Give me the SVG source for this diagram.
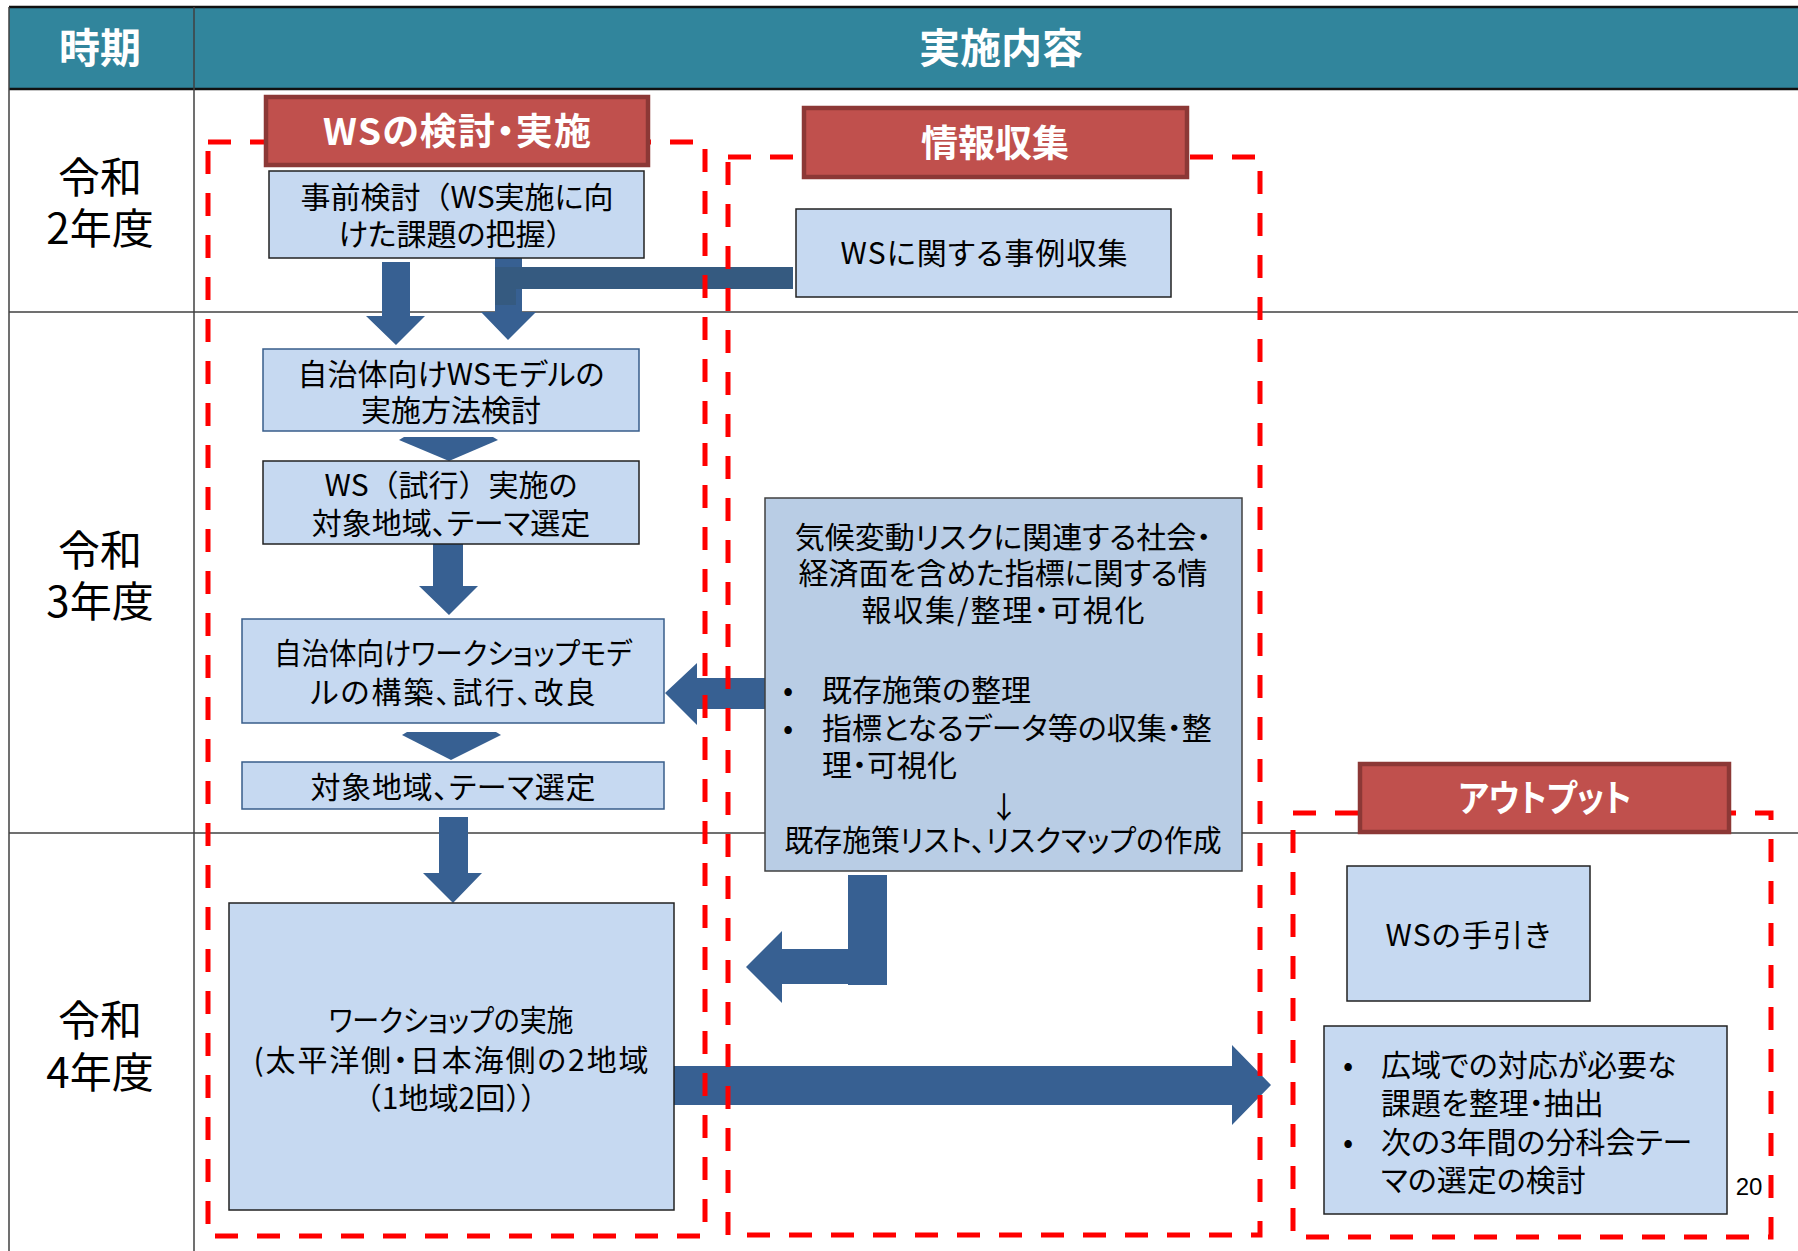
<svg xmlns="http://www.w3.org/2000/svg" width="1798" height="1251" viewBox="0 0 1798 1251">
<style>
text{font-family:"Noto Sans CJK JP","Noto Sans CJK SC",sans-serif;font-feature-settings:"palt" 1;fill:#000}
.np{font-feature-settings:normal}
.hd{font-size:41px;font-weight:bold;fill:#fff;text-anchor:middle}
.yr{font-size:42px;text-anchor:middle}
.lbl{font-size:37px;font-weight:bold;fill:#fff;text-anchor:middle}
.t{font-size:30px;text-anchor:middle}
.tl{font-size:30px;text-anchor:start}
.c{text-anchor:middle}
.s{text-anchor:start}
.box{fill:#C6D9F1;stroke:#385D8A;stroke-width:1.5}
.boxk{fill:#C6D9F1;stroke:#222;stroke-width:1.5}
.info{fill:#B9CDE5;stroke:#404040;stroke-width:1.5}
.redlbl{fill:#C0504D;stroke:#8C3836;stroke-width:4.5}
.dash{fill:none;stroke:#FF0000;stroke-width:5;stroke-dasharray:23 19}
.arr{fill:#376092}
.arr2{fill:#355A80}
.grid{stroke:#404040;stroke-width:1.5;fill:none}
</style>
<rect width="1798" height="1251" fill="#fff"/>
<g id="table">
<rect x="9" y="7" width="1789" height="82" fill="#31859C"/>
<line class="grid" x1="9" y1="7" x2="1798" y2="7" style="stroke:#111;stroke-width:2.5"/>
<line class="grid" x1="9" y1="89" x2="1798" y2="89" style="stroke:#111;stroke-width:2.5"/>
<line class="grid" x1="9" y1="7" x2="9" y2="1251"/>
<line class="grid" x1="194" y1="7" x2="194" y2="1251"/>
<line class="grid" x1="9" y1="312" x2="1798" y2="312"/>
<line class="grid" x1="9" y1="833" x2="1798" y2="833"/>
<text class="hd" x="100" y="63">時期</text>
<text class="hd" x="1001" y="63">実施内容</text>
<text class="yr"><tspan x="100" y="193">令和</tspan><tspan x="100" y="244">2年度</tspan></text>
<text class="yr"><tspan x="100" y="566">令和</tspan><tspan x="100" y="617">3年度</tspan></text>
<text class="yr"><tspan x="100" y="1036">令和</tspan><tspan x="100" y="1088">4年度</tspan></text>
</g>
<g id="connectors">
<path class="arr" d="M382,262 H410 V316 H425 L396,345 L366,316 H382 Z"/>
<path class="arr" d="M495,256 H522 V312 H536 L508,340 L481,312 H495 Z"/>
<rect class="arr2" x="497" y="267" width="296" height="22"/>
<rect class="arr2" x="495" y="267" width="21" height="38"/>
<path class="arr" d="M399,440 L404,437 H493 L498,440 L449,461 Z"/>
<path class="arr" d="M433,544 H463 V586 H478 L449,615 L419,586 H433 Z"/>
<path class="arr" d="M765,678 V709 H697 V725 L665,693 L697,663 V678 Z"/>
<path class="arr" d="M402,735 L407,732 H496 L501,735 L451,760 Z"/>
<path class="arr" d="M439,817 H468 V873 H482 L453,903 L423,873 H439 Z"/>
<path class="arr" d="M848,875 H887 V985 H848 V984 H782 V1003 L746,967 L782,931 V949 H848 Z"/>
<path class="arr" d="M674,1066 H1232 V1045 L1271,1085 L1232,1125 V1105 H674 Z"/>
</g>
<g id="frames">
<rect class="dash" x="208" y="142" width="497" height="1094"/>
<rect class="dash" x="728" y="157" width="532" height="1078"/>
<rect class="dash" x="1293" y="813" width="478" height="424"/>
</g>
<g id="label-ws">
<rect class="redlbl" x="266" y="97" width="382" height="68"/>
<text class="lbl" x="457" y="145" textLength="268" lengthAdjust="spacing">WSの検討・実施</text>
</g>
<g id="label-info">
<rect class="redlbl" x="804" y="108" width="383" height="69"/>
<text class="lbl" x="995" y="157">情報収集</text>
</g>
<g id="label-output">
<rect class="redlbl" x="1360" y="764" width="369" height="68"/>
<text class="lbl" x="1545" y="812" textLength="173" lengthAdjust="spacingAndGlyphs">アウトプット</text>
</g>
<g id="n-jizen">
<rect class="boxk" x="269" y="171" width="375" height="87"/>
<text class="t"><tspan x="457" y="208">事前検討<tspan class="np">（</tspan>WS実施に向</tspan><tspan x="457" y="245">けた課題の把握<tspan class="np">）</tspan></tspan></text>
</g>
<g id="n-jirei">
<rect class="boxk" x="796" y="209" width="375" height="88"/>
<text class="t" x="984" y="264" textLength="287" lengthAdjust="spacing">WSに関する事例収集</text>
</g>
<g id="n-model">
<rect class="box" x="263" y="349" width="376" height="82"/>
<text class="t"><tspan x="451" y="385">自治体向けWSモデルの</tspan><tspan x="451" y="421">実施方法検討</tspan></text>
</g>
<g id="n-trial">
<rect class="boxk" x="263" y="461" width="376" height="83"/>
<text class="t"><tspan x="451" y="496">WS<tspan class="np">（</tspan>試行<tspan class="np">）</tspan>実施の</tspan><tspan x="451" y="534">対象地域、テーマ選定</tspan></text>
</g>
<g id="n-build">
<rect class="box" x="242" y="619" width="422" height="104"/>
<text class="t"><tspan x="453" y="664" textLength="358" lengthAdjust="spacingAndGlyphs">自治体向けワークショップモデ</tspan><tspan x="453" y="703" textLength="285" lengthAdjust="spacing">ルの構築、試行、改良</tspan></text>
</g>
<g id="n-select">
<rect class="box" x="242" y="762" width="422" height="47"/>
<text class="t" x="453" y="798" textLength="285" lengthAdjust="spacing">対象地域、テーマ選定</text>
</g>
<g id="n-collect">
<rect class="info" x="765" y="498" width="477" height="373"/>
<text class="t"><tspan class="c" x="1003" y="548">気候変動リスクに関連する社会・</tspan><tspan class="c" x="1003" y="584">経済面を含めた指標に関する情</tspan><tspan class="c" x="1003" y="621" textLength="283" lengthAdjust="spacing">報収集/整理・可視化</tspan><tspan class="s" x="783 822" y="701">•既存施策の整理</tspan><tspan class="s" x="783 822" y="739">•指標となるデータ等の収集・整</tspan><tspan class="s" x="822" y="776">理・可視化</tspan><tspan class="c" x="1004" y="818">↓</tspan><tspan class="c" x="1003" y="851" textLength="437" lengthAdjust="spacingAndGlyphs">既存施策リスト、リスクマップの作成</tspan></text>
</g>
<g id="n-ws">
<rect class="boxk" x="229" y="903" width="445" height="307"/>
<text class="t"><tspan x="451" y="1031" textLength="245" lengthAdjust="spacingAndGlyphs">ワークショップの実施</tspan><tspan x="451" y="1071" textLength="395" lengthAdjust="spacing">(太平洋側・日本海側の2地域</tspan><tspan x="451" y="1109"><tspan class="np">（</tspan>1地域2回<tspan class="np">））</tspan></tspan></text>
</g>
<g id="n-guide">
<rect class="boxk" x="1347" y="866" width="243" height="135"/>
<text class="t" x="1468" y="946" textLength="165" lengthAdjust="spacing">WSの手引き</text>
</g>
<g id="n-issues">
<rect class="boxk" x="1324" y="1026" width="403" height="188"/>
<text class="tl"><tspan x="1343 1381" y="1076">•広域での対応が必要な</tspan><tspan x="1381" y="1114">課題を整理・抽出</tspan><tspan x="1343 1381" y="1153">•次の3年間の分科会テー</tspan><tspan x="1381" y="1191">マの選定の検討</tspan></text>
</g>
<text x="1749" y="1195" style="font-family:'Liberation Sans',sans-serif;font-size:24px;text-anchor:middle;font-feature-settings:normal">20</text>
</svg>
